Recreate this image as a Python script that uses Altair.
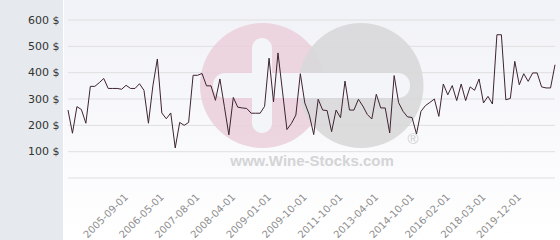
import altair as alt
import pandas as pd

prices = [
    258, 170, 271, 260, 208, 348, 348, 362, 378, 340,
    340, 340, 337, 352, 340, 340, 358, 333, 208, 350,
    452, 247, 225, 247, 114, 211, 200, 211, 390, 390,
    397, 350, 350, 295, 376, 271, 164, 306, 269, 266,
    264, 246, 246, 246, 272, 455, 289, 475, 330, 184,
    207, 239, 396, 285, 240, 165, 299, 258, 256, 176,
    258, 229, 368, 258, 258, 299, 273, 241, 224, 318,
    266, 266, 171, 389, 286, 253, 232, 230, 167, 253,
    275, 287, 300, 234, 357, 316, 351, 294, 357, 294,
    346, 333, 376, 285, 310, 281, 544, 544, 297, 302,
    443, 354, 396, 367, 399, 399, 346, 342, 342, 430,
]
obs_index = list(range(len(prices)))

# Date labels shown on the x axis and the observation they belong to
date_labels = ["2005-09-01", "2006-05-01", "2007-08-01", "2008-04-01",
               "2009-01-01", "2009-10-01", "2011-10-01", "2013-04-01",
               "2014-10-01", "2016-02-01", "2018-03-01", "2019-12-01"]
date_label_index = [13, 21, 29, 37, 45, 53, 61, 69, 77, 85, 93, 101]

y_ticks = [0, 100, 200, 300, 400, 500, 600]

df = pd.DataFrame({"i": obs_index, "price": prices})
grid_df = pd.DataFrame({"v": y_ticks})

x_scale = alt.Scale(domain=[0, len(prices) - 1], nice=False, zero=False)
y_scale = alt.Scale(domain=[0, 600], nice=False)

label_map = "{" + ",".join(f"'{k}':'{v}'" for k, v in zip(date_label_index, date_labels)) + "}"

y_axis = alt.Axis(values=y_ticks,
                  labelExpr="datum.value == 0 ? '' : datum.value + ' $'",
                  labelFontSize=11, labelColor="#333333", labelFont="DejaVu Sans",
                  labelPadding=9, grid=False, ticks=False, tickSize=0,
                  domain=False, title=None, zindex=1)

one = alt.Data(values=[{}])

# backgrounds
left_panel = alt.Chart(one).mark_rect(color="#e6eaee").encode(
    x=alt.value(-68), x2=alt.value(-5), y=alt.value(-20), y2=alt.value(220))
main_bg = alt.Chart(one).mark_rect(
    color=alt.Gradient(gradient="linear",
                       stops=[alt.GradientStop(color="#f1f2f7", offset=0),
                              alt.GradientStop(color="#ffffff", offset=1)],
                       x1=0, x2=0, y1=0, y2=1)
).encode(x=alt.value(-4), x2=alt.value(492), y=alt.value(-20), y2=alt.value(220))

grid = alt.Chart(grid_df).mark_rule(color="#dfdfdf", strokeWidth=1).encode(
    y=alt.Y("v:Q", scale=y_scale, axis=y_axis))

# watermark
pink = alt.Chart(one).mark_circle(color="#eacfd9", opacity=0.85).encode(
    x=alt.value(194.5), y=alt.value(65.5), size=alt.value(15625))
grey = alt.Chart(one).mark_circle(color="#d8d8d9", opacity=0.9).encode(
    x=alt.value(293), y=alt.value(65.5), size=alt.value(15625))
hbar = alt.Chart(one).mark_rect(color="#f4f5f8", cornerRadius=12).encode(
    x=alt.value(145), x2=alt.value(342), y=alt.value(53), y2=alt.value(78))
vbar = alt.Chart(one).mark_rect(color="#f4f5f8", cornerRadius=10).encode(
    x=alt.value(184), x2=alt.value(204), y=alt.value(18), y2=alt.value(113))
wm_text = alt.Chart(one).mark_text(
    text="www.Wine-Stocks.com", font="Liberation Sans", fontWeight="bold",
    fontSize=15, color="#d4d4d6").encode(x=alt.value(244), y=alt.value(141))
wm_r = alt.Chart(one).mark_text(
    text="®", font="Liberation Sans", fontSize=15, color="#cfcfd1").encode(
    x=alt.value(345), y=alt.value(119))

line = alt.Chart(df).mark_line(color="#3f2331", strokeWidth=1).encode(
    x=alt.X("i:Q", scale=x_scale,
            axis=alt.Axis(values=date_label_index, labelExpr=f"{label_map}[''+datum.value]",
                          labelAngle=315, labelAlign="right", labelBaseline="middle",
                          labelPadding=17, labelFontSize=10, labelColor="#8e8e8e",
                          labelFont="DejaVu Sans", grid=False, ticks=False, tickSize=0,
                          domain=False, title=None, zindex=1, labelOverlap=False,
                          labelFlush=False)),
    y=alt.Y("price:Q", scale=y_scale, axis=y_axis),
)

chart = alt.layer(left_panel, main_bg, grid, pink, grey, hbar, vbar, wm_text, wm_r, line).properties(
    width=487, height=158,
    autosize=alt.AutoSizeParams(type="none"),
    padding={"left": 68, "top": 20, "right": 5, "bottom": 62},
).configure_view(stroke=None).configure(background="#ffffff")

chart.save("out.html", embed_options={"renderer": "svg", "actions": False})
